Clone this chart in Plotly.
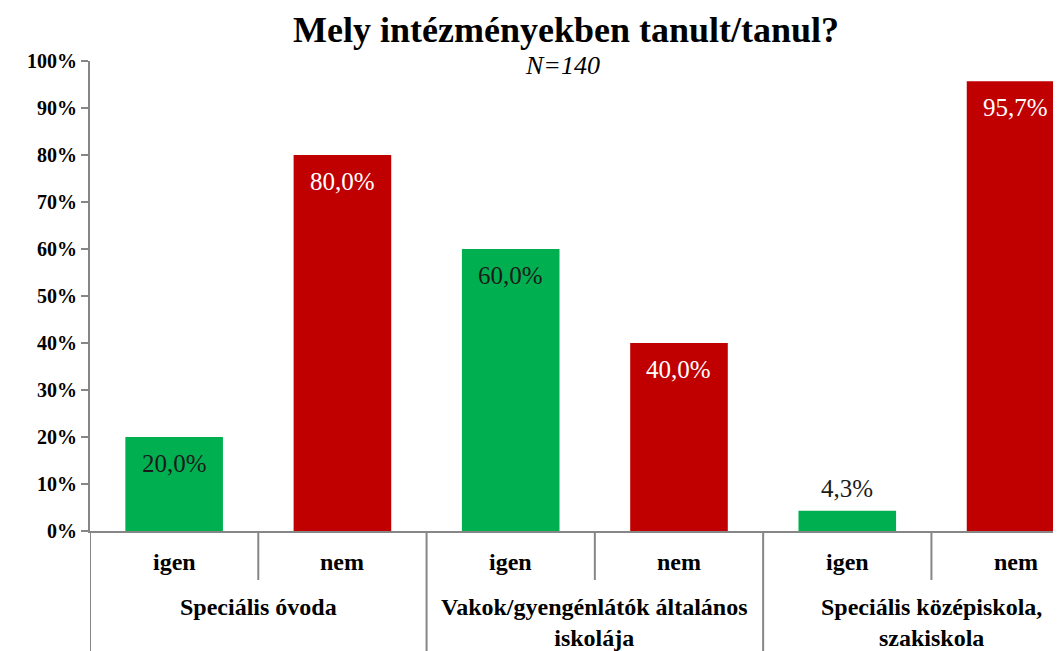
import plotly.graph_objects as go

groups = ["Speciális óvoda",
          "Vakok/gyengénlátók általános<br>iskolája",
          "Speciális középiskola,<br>szakiskola"]
answers = ["igen", "nem", "igen", "nem", "igen", "nem"]
values = [20.0, 80.0, 60.0, 40.0, 4.3, 95.7]
labels = ["20,0%", "80,0%", "60,0%", "40,0%", "4,3%", "95,7%"]
colors = ["#00B050", "#C00000", "#00B050", "#C00000", "#00B050", "#C00000"]
text_colors = ["#1a1a1a", "white", "#1a1a1a", "white", "#1a1a1a", "white"]
label_inside = [True, True, True, True, False, True]
y_ticks = [0, 10, 20, 30, 40, 50, 60, 70, 80, 90, 100]
y_ticktext = [f"{v}%" for v in y_ticks]

FONT = "Liberation Serif"
GRAY = "#868686"
OFF = 8  # page offset of the figure inside the browser window

x_pos = list(range(len(answers)))

# plot area in window pixels: left 90, top 61, bottom 531, right 1061
L, T, B = 90 - OFF, 61 - OFF, 531 - OFF
H = float(B - T)
PW = 1061 - 90

def py(pix):
    return ((531 - pix)) / H

fig = go.Figure(go.Bar(
    x=x_pos,
    y=values,
    width=0.58,
    marker=dict(color=colors, line=dict(width=0)),
    hoverinfo="skip",
))

# bar value labels
for xi, v, lab, tc, inside in zip(x_pos, values, labels, text_colors, label_inside):
    fig.add_annotation(x=xi, y=v, xref="x", yref="y", text=lab, showarrow=False,
                       yshift=-26 if inside else 22,
                       font=dict(family=FONT, size=25, color=tc))

# category labels
for xi, a in zip(x_pos, answers):
    fig.add_annotation(x=xi, y=py(562), xref="x", yref="paper", text=f"<b>{a}</b>",
                       showarrow=False, yanchor="middle",
                       font=dict(family=FONT, size=24, color="black"))
for gi, g in enumerate(groups):
    fig.add_annotation(x=2 * gi + 0.5, y=py(592), xref="x", yref="paper", text=f"<b>{g}</b>",
                       showarrow=False, yanchor="top", align="center",
                       font=dict(family=FONT, size=24, color="black"))

# dividers
for b in [-0.5, 0.5, 1.5, 2.5, 3.5, 4.5]:
    is_group = (b + 0.5) % 2 == 0
    fig.add_shape(type="line", xref="x", yref="paper", x0=b, x1=b,
                  y0=py(531), y1=py(660) if is_group else py(580),
                  line=dict(color=GRAY, width=2))

# title / subtitle
fig.add_annotation(text="<b>Mely intézményekben tanult/tanul?</b>", xref="paper", yref="paper",
                   x=(566 - 90) / PW, y=py(30), showarrow=False, yanchor="middle",
                   font=dict(family=FONT, size=36, color="black"))
fig.add_annotation(text="<i>N=140</i>", xref="paper", yref="paper",
                   x=(562 - 90) / PW, y=py(66), showarrow=False, yanchor="middle",
                   font=dict(family=FONT, size=26, color="black"))

fig.update_layout(
    width=1061, height=651,
    margin=dict(l=L, r=OFF, t=T, b=651 - B, autoexpand=False),
    paper_bgcolor="white", plot_bgcolor="white",
    showlegend=False,
    font=dict(family=FONT, color="black"),
)

fig.update_yaxes(
    range=[0, 100], tickvals=y_ticks, ticktext=[f"<b>{t}</b>" for t in y_ticktext],
    showgrid=False, zeroline=False, automargin=False,
    showline=True, linecolor=GRAY, linewidth=2,
    ticks="outside", ticklen=7, tickcolor=GRAY, tickwidth=2,
    tickfont=dict(family=FONT, size=20, color="black"),
)
fig.update_xaxes(
    range=[-0.5, 5.27], showticklabels=False, automargin=False,
    showgrid=False, zeroline=False,
    showline=True, linecolor=GRAY, linewidth=2,
    ticks="",
)
fig.add_shape(type="line", xref="paper", yref="paper", x0=-7 / PW, x1=0, y0=0, y1=0,
              line=dict(color=GRAY, width=2))

fig.write_html("out.html")
